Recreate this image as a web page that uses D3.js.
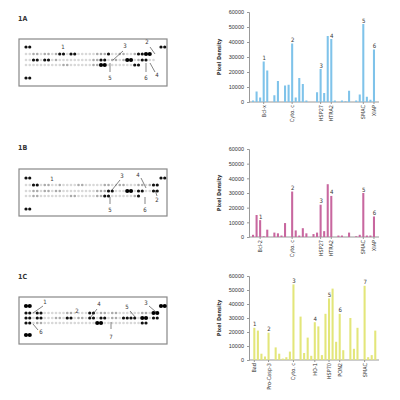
<!DOCTYPE html>
<html><head><meta charset="utf-8">
<script src="https://cdn.jsdelivr.net/npm/d3@7"></script>
<style>body{margin:0;background:#fff}</style>
</head><body>
<script>
// ---- data ----
var valuesA = [1000,7000,3000,27000,21000,0,4500,14000,0,11000,11500,39000,3000,16000,12000,1000,0,0,6500,22000,6000,44000,42000,1000,0,1000,500,7500,0,1000,5000,52000,3500,1500,35000];
var valuesB = [1500,15000,11500,500,5000,0,3000,2500,1000,9500,0,31000,4500,1000,6000,2500,0,2000,3000,22000,4000,36000,28000,0,1000,1000,0,3000,0,500,1500,30000,1000,1000,14000];
var valuesC = [23000,21000,4500,2500,19500,0,9000,4500,1000,2000,6000,54000,0,31000,5000,16000,3000,27000,24000,3500,33000,44000,51000,13000,33000,7000,0,30000,8000,23000,0,53000,2000,3500,21000];
var labelsA = [[3,"Bcl-x"],[11,"Cyto. c"],[19,"HSP27"],[22,"HTRA2"],[31,"SMAC"],[34,"XIAP"]];
var labelsB = [[2,"Bcl-2"],[11,"Cyto. c"],[19,"HSP27"],[22,"HTRA2"],[31,"SMAC"],[34,"XIAP"]];
var labelsC = [[0,"Bad"],[4,"Pro-Casp-3"],[11,"Cyto. c"],[17,"HO-1"],[21,"HSP70"],[24,"PON2"],[31,"SMAC"]];
var numsA = [[3,"1"],[11,"2"],[19,"3"],[22,"4"],[31,"5"],[34,"6"]];
var numsB = [[2,"1"],[11,"2"],[19,"3"],[22,"4"],[31,"5"],[34,"6"]];
var numsC = [[0,"1"],[4,"2"],[11,"3"],[17,"4"],[21,"5"],[24,"6"],[31,"7"]];
var yTicks = [0,10000,20000,30000,40000,50000,60000];

// blot spots: ' ' none, '.' faint, 'o' grey, '#' dark, 'B' big dark
var blotA = [
  "##                                  ##",
  "..oo.oo.o##.##.....ooo#..oo..o##BB",
  "..##.##.o.........oo##.oo.oBB.o##..",
  "..........oo......ooBB.......##",
  "##"];
var blotB = [
  "##                                  ##",
  "..##.oo..o....oo.....oo..oo...oo.o##",
  "..oo.oo.oo.........ooo##...BB.##..##",
  "..oo........oo.....oo##......o#",
  "##"];
var blotC = [
  "BB                                  BB",
  "##.##......oo....##.oo.oo......oo.BB",
  "##.##...oo.##.oo.##.##.oo.####.BB.##",
  "##.oo..............BB..........##",
  "BB"];
var notesA = [["1",63,49],["3",125,48,123,51,113,60],["2",147,44,150,47,155,54],["4",157,77,155,72,150,63],["5",110,80,110,72,110,63],["6",146,80,146,72,146,63]];
var notesB = [["1",52,181],["3",122,178,120,180,112,190],["4",138,177,141,178,146,188],["2",157,202,157,196,155,190],["5",110,212,110,204,110,197],["6",145,212,145,204,145,197]];
var notesC = [["1",45,304,43,306,33,313],["6",41,334,38,330,33,324],["2",77,313],["4",99,306,97,309,90,318],["7",111,339,111,329,111,322],["5",127,309,130,311,136,318],["3",146,305,149,306,156,312]];

var svg = d3.select("body").append("svg").attr("width",400).attr("height",400)
  .style("font-family","'Liberation Sans Narrow','DejaVu Sans Condensed',sans-serif");

function panel(o){
  svg.append("text").attr("x",18).attr("y",o.titleY).attr("font-size",7).attr("font-weight","bold").attr("fill","#333").text(o.title);
  svg.append("rect").attr("x",19).attr("y",o.boxY).attr("width",148).attr("height",47)
    .attr("fill","#fff").attr("stroke","#888").attr("stroke-width",1.2);
  var cx = d3.scaleLinear().domain([0,36]).range([26,161]);
  o.blot.forEach(function(row,r){
    row.split("").forEach(function(c,i){
      if(c===" ") return;
      var col = {".":"#d8d8d8","o":"#aaa","#":"#111","B":"#000"}[c];
      var rad = c==="B"?2.1:(c==="#"?1.6:1.3);
      svg.append("circle").attr("cx",cx(i)).attr("cy",o.rows[r]).attr("r",rad).attr("fill",col);
    });
  });
  o.notes.forEach(function(n){
    svg.append("text").attr("x",n[1]).attr("y",n[2]).attr("font-size",6).attr("text-anchor","middle").attr("fill","#333").text(n[0]);
    if(n.length>3) svg.append("line").attr("x1",n[3]).attr("y1",n[4]).attr("x2",n[5]).attr("y2",n[6]).attr("stroke","#333").attr("stroke-width",0.6);
  });

  var x = d3.scaleBand().domain(d3.range(o.values.length)).range([250.5+o.dx,376.5+o.dx]).padding(0.42);
  var y = d3.scaleLinear().domain([0,60000]).range([o.bottom,o.top]);
  var g = svg.append("g");
  var ya = g.append("g").attr("transform","translate(249,0)")
    .call(d3.axisLeft(y).tickValues(yTicks).tickSize(2).tickFormat(d3.format("d")));
  ya.selectAll("text").attr("font-size",5.5).attr("fill","#333").attr("font-family","'Liberation Sans Narrow',sans-serif");
  ya.selectAll("line,path").attr("stroke","#999");
  g.append("line").attr("x1",249).attr("x2",379).attr("y1",o.bottom).attr("y2",o.bottom).attr("stroke","#999").attr("stroke-width",1);
  g.selectAll("rect.bar").data(o.values).enter().append("rect").attr("class","bar")
    .attr("x",function(d,i){return x(i);}).attr("width",x.bandwidth())
    .attr("y",function(d){return y(d);}).attr("height",function(d){return o.bottom-y(d);})
    .attr("fill",o.color);
  o.labels.forEach(function(l){
    var px = x(l[0])+x.bandwidth()/2;
    g.append("line").attr("x1",px).attr("x2",px).attr("y1",o.bottom).attr("y2",o.bottom+2).attr("stroke","#999");
    g.append("text").attr("transform","translate("+(px+2)+","+(o.bottom+3)+") rotate(-90)")
      .attr("text-anchor","end").attr("font-size",5.5).attr("fill","#333").text(l[1]);
  });
  o.nums.forEach(function(l){
    g.append("text").attr("x",x(l[0])+x.bandwidth()/2+0.5).attr("y",y(o.values[l[0]])-1.5)
      .attr("text-anchor","middle").attr("font-size",6).attr("fill","#333").text(l[1]);
  });
  g.append("text").attr("transform","translate(221,"+((o.top+o.bottom)/2)+") rotate(-90)")
    .attr("text-anchor","middle").attr("font-size",5.5).attr("font-weight","bold").attr("fill","#333").text("Pixel Density");
}

panel({title:"1A",titleY:21,boxY:39,rows:[47,54,60,65,78],blot:blotA,notes:notesA,
  values:valuesA,labels:labelsA,nums:numsA,color:"#7fc3ea",top:12,bottom:102,dx:0});
panel({title:"1B",titleY:150,boxY:169,rows:[178,185,191,196,209],blot:blotB,notes:notesB,
  values:valuesB,labels:labelsB,nums:numsB,color:"#c8679f",top:149,bottom:237,dx:0});
panel({title:"1C",titleY:279,boxY:297,rows:[306,313,318,323,335],blot:blotC,notes:notesC,
  values:valuesC,labels:labelsC,nums:numsC,color:"#e3e67a",top:276,bottom:360,dx:1.3});
</script>
</body></html>
